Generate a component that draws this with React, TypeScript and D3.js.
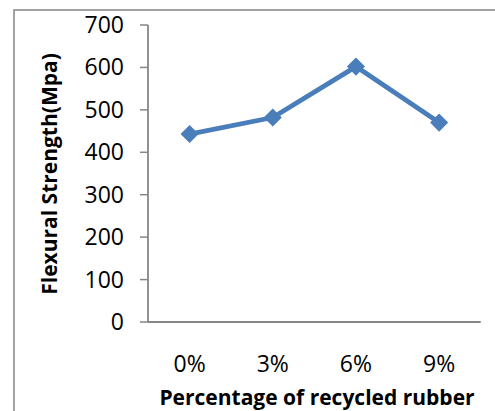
import React from "react";
import * as d3 from "d3";

// Flexural strength against recycled rubber content
const categories: string[] = ["0%", "3%", "6%", "9%"];
const strength: number[] = [443, 482, 602, 470];
const yTicks: number[] = [0, 100, 200, 300, 400, 500, 600, 700];

const W = 495;
const H = 411;
const margin = { left: 148, right: 14, top: 25, bottom: 89 };
const blue = "#4a7ebb";
const axisGrey = "#868686";
const font = "'Open Sans', 'DejaVu Sans', sans-serif";

export default function App() {
  const x = d3
    .scaleBand<string>()
    .domain(categories)
    .range([margin.left, W - margin.right - 0.3])
    .paddingInner(0)
    .paddingOuter(0);
  const y = d3
    .scaleLinear()
    .domain([0, 700])
    .range([H - margin.bottom, margin.top]);

  const pts: [number, number][] = strength.map((v, i) => [
    (x(categories[i]) as number) + x.bandwidth() / 2,
    y(v),
  ]);
  const line = d3.line<[number, number]>()(pts) ?? "";
  const diamond = d3.symbol().type(d3.symbolDiamond2).size(210)() ?? "";

  const x0 = margin.left;
  const x1 = W - margin.right - 0.3;
  const y0 = y(0);

  return (
    <svg
      width={W}
      height={H}
      style={{ position: "absolute", left: 0, top: 0, background: "#fff" }}
    >
      {/* chart frame */}
      <rect x={14} y={10} width={W + 20} height={H + 20} fill="#fff" stroke="#8c8c8c" strokeWidth={1.6} />

      {/* y axis with ticks */}
      <line x1={x0} x2={x0} y1={y(700)} y2={y0} stroke={axisGrey} strokeWidth={1.8} />
      {yTicks.map((t) => (
        <g key={t}>
          <line x1={x0 - 8} x2={x0} y1={y(t)} y2={y(t)} stroke={axisGrey} strokeWidth={1.5} />
          <text
            x={124}
            y={y(t) + 8}
            textAnchor="end"
            fontFamily={font}
            fontSize={23}
            fill="#000"
          >
            {t}
          </text>
        </g>
      ))}

      {/* x axis */}
      <line x1={x0} x2={x1} y1={y0} y2={y0} stroke={axisGrey} strokeWidth={1.8} />
      {categories.map((c) => (
        <text
          key={c}
          x={(x(c) as number) + x.bandwidth() / 2}
          y={372}
          textAnchor="middle"
          fontFamily={font}
          fontSize={23}
          fill="#000"
        >
          {c}
        </text>
      ))}

      {/* series */}
      <path d={line} fill="none" stroke={blue} strokeWidth={4.8} strokeLinejoin="round" />
      {pts.map(([px, py], i) => (
        <path key={i} d={diamond} transform={`translate(${px},${py})`} fill={blue} />
      ))}

      {/* axis titles */}
      <text
        x={317}
        y={405}
        textAnchor="middle"
        fontFamily={font}
        fontWeight={700}
        fontSize={21}
        fill="#000"
      >
        Percentage of recycled rubber
      </text>
      <text
        transform={`translate(57,174) rotate(-90)`}
        textAnchor="middle"
        fontFamily={font}
        fontWeight={700}
        fontSize={21}
        fill="#000"
      >
        Flexural Strength(Mpa)
      </text>
    </svg>
  );
}
